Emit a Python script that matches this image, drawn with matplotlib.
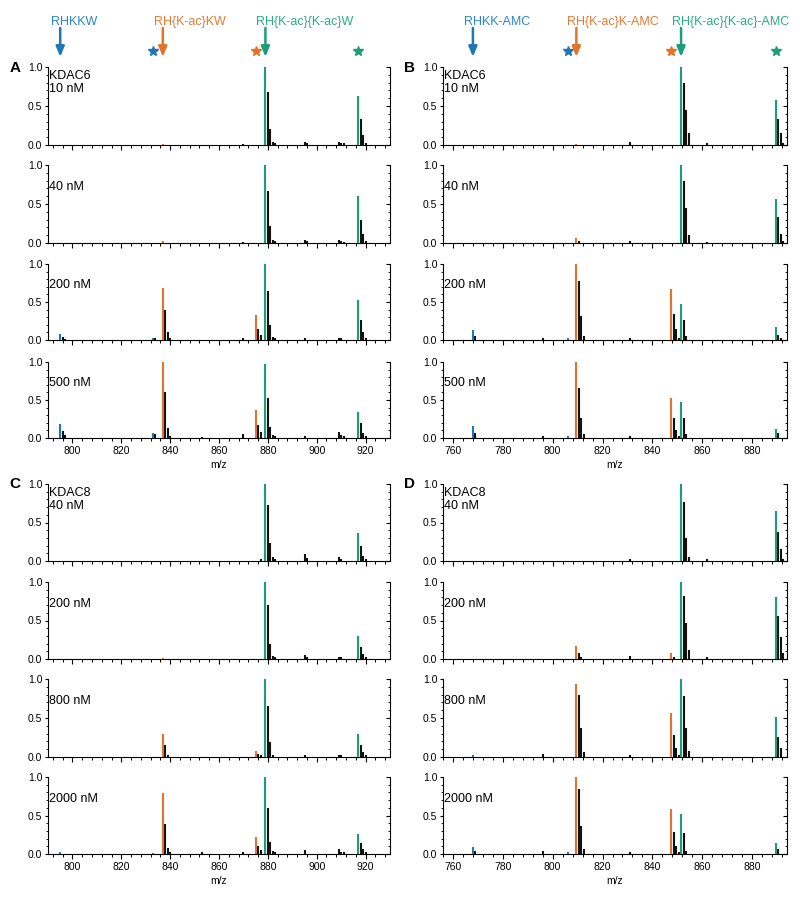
import matplotlib
matplotlib.use('Agg')
import matplotlib.pyplot as plt
from matplotlib.ticker import MultipleLocator
from matplotlib.transforms import offset_copy
import numpy as np

plt.rcParams['font.family'] = ['Liberation Sans', 'DejaVu Sans']

C_BLUE = '#1f77b4'
C_ORANGE = '#e2732a'
C_GREEN = '#1b9e77'
C_BLACK = '#111111'
COLORS = {'b': C_BLUE, 'o': C_ORANGE, 'g': C_GREEN, 'k': C_BLACK}

# ---------------- Panel A / C : RHKKW series ----------------
mz_W = [795, 796, 797, 833, 834, 837, 838, 839, 840, 853, 870, 875, 876, 877,
        879, 880, 881, 882, 883, 895, 896, 909, 910, 911, 917, 918, 919, 920]
kind_W = ['b', 'k', 'k', 'b', 'k', 'o', 'k', 'k', 'k', 'k', 'k', 'o', 'k', 'k',
          'g', 'k', 'k', 'k', 'k', 'k', 'k', 'k', 'k', 'k', 'g', 'k', 'k', 'k']

A_10nM = [0, 0, 0, 0, 0, 0.01, 0, 0, 0, 0, 0.01, 0, 0, 0,
          1.0, 0.68, 0.21, 0.04, 0.02, 0.04, 0.02, 0.04, 0.03, 0.02, 0.63, 0.33, 0.13, 0.03]
A_40nM = [0, 0, 0, 0, 0, 0.02, 0, 0, 0, 0, 0.01, 0, 0, 0,
          1.0, 0.67, 0.22, 0.04, 0.02, 0.04, 0.02, 0.04, 0.02, 0.01, 0.60, 0.30, 0.11, 0.03]
A_200nM = [0.08, 0.04, 0.01, 0.03, 0.02, 0.68, 0.40, 0.10, 0.02, 0, 0.03, 0.33, 0.15, 0.06,
           1.0, 0.65, 0.20, 0.04, 0.02, 0.02, 0, 0.03, 0.02, 0, 0.53, 0.26, 0.10, 0.03]
A_500nM = [0.18, 0.09, 0.04, 0.07, 0.05, 1.0, 0.60, 0.13, 0.03, 0.01, 0.05, 0.37, 0.17, 0.08,
           0.98, 0.52, 0.14, 0.04, 0.02, 0.02, 0, 0.08, 0.04, 0.03, 0.34, 0.20, 0.07, 0.02]

C_40nM = [0, 0, 0, 0, 0, 0, 0, 0, 0, 0, 0, 0, 0, 0.02,
          1.0, 0.73, 0.24, 0.05, 0.03, 0.09, 0.04, 0.05, 0.03, 0, 0.36, 0.19, 0.07, 0.02]
C_200nM = [0, 0, 0, 0, 0, 0.01, 0, 0, 0, 0, 0, 0, 0, 0,
           1.0, 0.70, 0.20, 0.04, 0.02, 0.05, 0.02, 0.03, 0.03, 0, 0.30, 0.16, 0.06, 0.02]
C_800nM = [0, 0, 0, 0, 0, 0.30, 0.16, 0.03, 0, 0, 0, 0.08, 0.04, 0.02,
           1.0, 0.65, 0.19, 0.03, 0, 0.03, 0, 0.03, 0.02, 0, 0.30, 0.15, 0.06, 0.02]
C_2000nM = [0.02, 0, 0, 0.01, 0, 0.79, 0.39, 0.08, 0.02, 0.03, 0.02, 0.22, 0.10, 0.05,
            1.0, 0.60, 0.16, 0.04, 0.02, 0.05, 0, 0.06, 0.03, 0.02, 0.26, 0.14, 0.06, 0.02]

# ---------------- Panel B / D : RHKK-AMC series ----------------
mz_AMC = [768, 769, 796, 806, 809.5, 810.5, 811.5, 812.5, 831, 847.5, 848.5, 849.5, 850.5,
          851.5, 852.5, 853.5, 854.5, 862, 889.5, 890.5, 891.5, 892.5]
kind_AMC = ['b', 'k', 'k', 'b', 'o', 'k', 'k', 'k', 'k', 'o', 'k', 'k', 'k',
            'g', 'k', 'k', 'k', 'k', 'g', 'k', 'k', 'k']

B_10nM = [0, 0, 0, 0, 0.01, 0, 0, 0, 0.04, 0, 0, 0, 0,
          1.0, 0.80, 0.45, 0.15, 0.02, 0.58, 0.33, 0.15, 0.03]
B_40nM = [0, 0, 0, 0, 0.06, 0.03, 0, 0, 0.03, 0, 0, 0, 0,
          1.0, 0.80, 0.45, 0.10, 0.01, 0.57, 0.33, 0.12, 0.03]
B_200nM = [0.13, 0.05, 0.03, 0.03, 1.0, 0.77, 0.32, 0.05, 0.02, 0.67, 0.34, 0.14, 0.03,
           0.48, 0.26, 0.05, 0, 0, 0.17, 0.07, 0.02, 0]
B_500nM = [0.16, 0.06, 0.02, 0.03, 1.0, 0.66, 0.26, 0.05, 0.03, 0.53, 0.26, 0.10, 0.03,
           0.48, 0.26, 0.05, 0, 0, 0.12, 0.06, 0, 0]

D_40nM = [0, 0, 0, 0, 0, 0, 0, 0, 0.03, 0, 0, 0, 0,
          1.0, 0.76, 0.30, 0.05, 0.02, 0.65, 0.38, 0.16, 0.03]
D_200nM = [0, 0, 0, 0, 0.17, 0.08, 0.03, 0, 0.04, 0.08, 0.03, 0, 0,
           1.0, 0.82, 0.47, 0.12, 0.02, 0.80, 0.56, 0.28, 0.08]
D_800nM = [0.03, 0, 0.04, 0, 0.93, 0.80, 0.37, 0.07, 0.03, 0.57, 0.28, 0.11, 0.03,
           1.0, 0.78, 0.37, 0.08, 0, 0.51, 0.26, 0.11, 0]
D_2000nM = [0.09, 0.04, 0.04, 0.02, 1.0, 0.84, 0.36, 0.07, 0.02, 0.59, 0.28, 0.11, 0.03,
            0.52, 0.27, 0.04, 0, 0, 0.14, 0.06, 0, 0]

conc_KDAC6 = ['10 nM', '40 nM', '200 nM', '500 nM']
conc_KDAC8 = ['40 nM', '200 nM', '800 nM', '2000 nM']

# top annotations
labels_W = ['RHKKW', 'RH{K-ac}KW', 'RH{K-ac}{K-ac}W']
arrows_W = [795, 837, 879]
stars_W = [833, 875, 917]
labels_AMC = ['RHKK-AMC', 'RH{K-ac}K-AMC', 'RH{K-ac}{K-ac}-AMC']
arrows_AMC = [768, 809.5, 851.5]
stars_AMC = [806, 847.5, 889.5]
annot_colors = [C_BLUE, C_ORANGE, C_GREEN]
text_colors = ['#2b87c8', '#e47a34', '#2aad85']

W, H = 800, 898
fig = plt.figure(figsize=(W / 100, H / 100), dpi=100)


def add_ax(lpx, rpx, tpx, bpx):
    return fig.add_axes([lpx / W, 1 - bpx / H, (rpx - lpx) / W, (bpx - tpx) / H])


rows_top = [[(67, 145), (165, 243), (264, 340), (362, 438)],
            [(484, 561), (582, 659), (679, 757), (777, 854)]]

panels = [
    dict(letter='A', enzyme='KDAC6', mz=mz_W, kind=kind_W, rows=[A_10nM, A_40nM, A_200nM, A_500nM],
         conc=conc_KDAC6, xlim=(790, 930), lr=(48, 390), block=0,
         labels=labels_W, arrows=arrows_W, stars=stars_W),
    dict(letter='B', enzyme='KDAC6', mz=mz_AMC, kind=kind_AMC, rows=[B_10nM, B_40nM, B_200nM, B_500nM],
         conc=conc_KDAC6, xlim=(756, 894), lr=(443, 787), block=0,
         labels=labels_AMC, arrows=arrows_AMC, stars=stars_AMC),
    dict(letter='C', enzyme='KDAC8', mz=mz_W, kind=kind_W, rows=[C_40nM, C_200nM, C_800nM, C_2000nM],
         conc=conc_KDAC8, xlim=(790, 930), lr=(48, 390), block=1,
         labels=None, arrows=None, stars=None),
    dict(letter='D', enzyme='KDAC8', mz=mz_AMC, kind=kind_AMC, rows=[D_40nM, D_200nM, D_800nM, D_2000nM],
         conc=conc_KDAC8, xlim=(756, 894), lr=(443, 787), block=1,
         labels=None, arrows=None, stars=None),
]

TICK_FS = 7.5
for p in panels:
    lpx, rpx = p['lr']
    mz = np.array(p['mz'], dtype=float)
    kinds = np.array(p['kind'])
    for i, vals in enumerate(p['rows']):
        tpx, bpx = rows_top[p['block']][i]
        ax = add_ax(lpx, rpx, tpx, bpx)
        v = np.array(vals, dtype=float)
        for k in ['k', 'b', 'o', 'g']:
            m = (kinds == k) & (v > 0)
            ax.vlines(mz[m], 0, v[m], colors=COLORS[k], lw=1.5, clip_on=False, zorder=3)
        ax.set_xlim(*p['xlim'])
        ax.set_ylim(0, 1.0)
        ax.spines['top'].set_visible(False)
        ax.spines['right'].set_visible(False)
        for s in ['left', 'bottom']:
            ax.spines[s].set_linewidth(0.8)
        ax.xaxis.set_major_locator(MultipleLocator(20))
        ax.xaxis.set_minor_locator(MultipleLocator(4))
        ax.yaxis.set_major_locator(MultipleLocator(0.5))
        ax.yaxis.set_minor_locator(MultipleLocator(0.1))
        ax.tick_params(axis='x', which='major', direction='out', length=3.5, width=0.8,
                       labelsize=TICK_FS, pad=2.5, top=False)
        ax.tick_params(axis='x', which='minor', direction='out', length=2, width=0.7, top=False)
        ax.tick_params(axis='y', which='major', direction='out', length=2.5, width=0.8,
                       labelsize=TICK_FS, pad=1.5, right=False)
        ax.tick_params(axis='y', which='minor', direction='out', length=1.2, width=0.6, right=False)
        if i < 3:
            ax.tick_params(axis='x', labelbottom=False)
        else:
            ax.set_xlabel('m/z', fontsize=TICK_FS, labelpad=3)
        # right axis with inward ticks
        tw = ax.twinx()
        tw.set_ylim(0, 1.0)
        for s in ['left', 'top', 'bottom']:
            tw.spines[s].set_visible(False)
        tw.spines['right'].set_linewidth(0.8)
        tw.yaxis.set_major_locator(MultipleLocator(0.5))
        tw.yaxis.set_minor_locator(MultipleLocator(0.1))
        tw.tick_params(axis='y', which='major', direction='in', length=3, width=0.8, labelright=False)
        tw.tick_params(axis='y', which='minor', direction='in', length=1.6, width=0.6, labelright=False)
        # row labels
        txt = p['conc'][i]
        if i == 0:
            ax.text(0.004, 0.885, p['enzyme'], transform=ax.transAxes, fontsize=9,
                    ha='left', va='center')
            fig.text((lpx - 33) / W, 1 - (tpx + 0.5) / H, p['letter'], fontsize=11,
                     weight='bold', ha='center', va='center')
        ax.text(0.004, 0.72, txt, transform=ax.transAxes, fontsize=9, ha='left', va='center')
        if i == 0 and p['labels'] is not None:
            tr = ax.get_xaxis_transform()
            for lab, xa, xs, c, tc in zip(p['labels'], p['arrows'], p['stars'],
                                          annot_colors, text_colors):
                ax.annotate('', xy=(xa, 1.13), xytext=(xa, 1.50), xycoords=tr, textcoords=tr,
                            arrowprops=dict(arrowstyle='-|>,head_length=0.6,head_width=0.25',
                                            color=c, lw=1.8, shrinkA=0, shrinkB=0,
                                            mutation_scale=10),
                            annotation_clip=False)
                ax.text(xa, 1.58, lab, transform=offset_copy(tr, fig=fig, x=-6.5, y=0, units='points'),
                        color=tc, fontsize=9, ha='left', va='center', clip_on=False)
                ax.plot([xs], [1.205], marker='*', ms=7.5, color=c, transform=tr,
                        clip_on=False, linestyle='none')

fig.savefig('out.png', dpi=100)
